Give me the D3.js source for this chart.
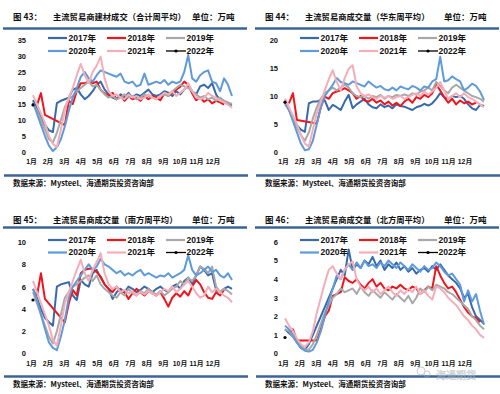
<!DOCTYPE html>
<html><head><meta charset="utf-8">
<script src="https://cdn.jsdelivr.net/npm/d3@7"></script>
<style>
body{margin:0;background:#fff}
svg{display:block}
text{font-family:"Liberation Sans","Noto Sans CJK SC",sans-serif}
.cjk{font-family:"Noto Sans CJK SC",sans-serif}
</style>
</head><body>
<svg id="c" width="500" height="394"></svg>
<script>
const years = ["2017年","2018年","2019年","2020年","2021年","2022年"];
const monthLabels = ["1月","2月","3月","4月","5月","6月","7月","8月","9月","10月","11月","12月"];

// 图43 合计
const total2017 = [16.2,13.5,11,8.5,6.8,6.2,15.3,16,16.5,17, 19.5,20,18,16.5,17.5,19,21,22,19.5,18, 17,16.5,18,17,18.5,17,18,17.5,18.5,19.5, 18,17.5,18,19,18.5,17.5,19,18,19.5,21, 19,18,20.5,21,20,21.5,18,16,15.5,15,14.7];
const total2018 = [null,14.7,18.4,11.6,null,null,null,null,8.4,16, 15,19,21.5,21.5,22,21.5,22,19.4,18.3,17.5, 18.5,16.5,17.5,16,17.5,16.5,17,16,17.5,16.5, 17.5,17,16.2,18.3,17.5,18.5,19.5,20.4,22,21, 18.3,16.2,17,15.7,16.5,15.2,16,15.5,14.8,null,null];
const total2019 = [15,13,10,7,4,3,6,10,14,16.5, 17.5,19,20,21,22,20.5,21,19.5,18,17, 17.5,16.5,17,18,17,17.5,16.5,17,18,17.5, 17,16.5,17.5,18,17.5,19,20,21,20.5,20, 19,18,17,17.5,16.5,17,16,17,16,15.5,15];
const total2020 = [15.5,12,8.5,5,2,0.3,1.5,4,8,13, 17,20,23.5,25,23,22,24,25.5,25,24.5, 24,23.5,24.5,22,21.5,22,20.5,21,24.5,21, 21.5,22,21.5,22.5,21,22,21.5,22,25,30.3, 23,22,24,25,25.5,22,21.5,19,23,21,17.5];
const total2021 = [17.8,15,12,9,5,2.5,1.5,7,13,17, 20,24,27.5,24,21.5,25,27,29.8,23,19, 17.5,18,17,16.5,18,17,17.5,16.5,17,18, 17,16.5,17.5,18.5,18,19,17.5,18.5,19.5,21.5, 19,17,16.5,17,18.5,17.5,17,16,15.5,14.8,13.8];
const total2022 = [14.7];

// 图44 华东
const east2017 = [8.7,7.5,6,4.8,4,3.6,8.7,9,9,9.3, 9.2,7.5,8.4,8,7.5,9,10.2,7.8,8.5,9, 9.5,8.5,8,7.8,8.5,8,8.3,7.8,8.5,8.2, 8.1,7.8,7.5,8,8.2,8.6,8.3,8.7,9.5,10.5, 9.8,9.5,10,9.8,10,9.5,8.5,7.8,7.5,8.4,8.2];
const east2018 = [null,8.7,10.5,5.7,null,null,null,null,5.1,8, 9.9,9.5,10.5,10.8,11,11.4,11,10.5,9.5,10, 9.2,9,9.5,8.8,9.2,8.5,9,8.3,8.8,8.2, 9,9.5,8.8,9.8,9.5,10.2,9.8,10.5,12,11, 9.8,8.8,9.5,8.5,9.2,8.7,9,8.5,8.8,null,null];
const east2019 = [8.5,7.5,6,4.5,3,2,3.5,6,8,9.5, 10.5,11,11.5,11,11.5,12,11.5,10.5,10,9.8, 10,9.5,10,9.8,10.2,9.5,10,9.8,10.2,10, 10.3,10,10.5,10.2,10.8,11,11.5,11,12.5,11.8, 11,10.5,11.5,12,11.5,11,10.5,10,9.8,9.5,9];
const east2020 = [9,7.5,5.5,3.5,1.5,0.3,0.5,2,5,8, 10,11,12,13.2,12.5,12.3,12,12.6,12.3,12, 11.7,12.6,12,11.5,11.8,11.2,11,11.5,11,11.7, 11.4,11.2,11.8,11.5,11,11.7,11.5,12.6,13,17, 12.6,12.8,13.5,13,12.6,11,11.5,12.2,11.8,10.8,9.3];
const east2021 = [9.5,8,6.5,5,3,1.5,1,4,7,9, 11,13,14.6,12.5,11,13.2,14.9,15.5,11.7,10.5, 10,10.3,9.8,9.5,10,9.7,10,9.5,9.8,10, 9.5,9.8,10.2,10.5,10,10.8,10.2,10.8,11.5,12.5, 11,9.5,10,10.5,9.8,10.5,9.8,9.5,9,8.5,8];
const east2022 = [8.9];

// 图45 南方
const south2017 = [5.8,5,4,3.2,2.8,2.5,6,6.2,6.3,6.4, 5.2,4.8,6.6,6.2,6,7.2,7.5,6.8,6.2,5.8, 4.9,5.5,5.8,5.5,6,5.8,5.5,5.7,6,5.8, 5.5,5.8,6,5.7,5.5,6,6.2,5.8,6.5,6.8, 6.2,7,7.8,7.5,7,7.2,5.7,5.5,5.8,6,5.8];
const south2018 = [null,5.2,7.2,4.9,null,null,null,null,2.8,4.5, 5.7,5.2,7.2,7.5,7.6,7.6,7.3,6.9,6.2,5.8, 5.5,6,5.6,5.5,4.9,5.4,5.8,5.5,5.2,5.6, 5.4,5.2,5.5,4.9,4.2,5,5.4,5.1,5.6,5.2, 6,6.6,6.2,5.5,5,4.9,5.5,5.2,5.7,null,null];
const south2019 = [5.5,4.5,3.5,2.5,1.5,0.9,2,3.5,5,5.5, 6,6.2,6.5,6.8,7,6.5,7,6.2,5.8,5.5, 5.2,5,5.5,5.2,5.8,5.4,5.2,5.6,5.4,5.8, 5.5,5.3,5.6,5.2,5.5,5.8,6,6.5,6.2,6.8, 6.5,7,7.8,7.6,7.2,7.8,6,5.5,5.8,5.6,5.3];
const south2020 = [5.8,4.8,3.5,2.2,1,0.5,0.3,1.5,3,5, 6,6.5,7,7.5,8,7.5,7.8,8.5,8,7.8, 7.5,7.2,7.4,7,7.2,7,7.3,7.5,7,7.2, 7,6.8,7,6.9,7.2,6.8,7,7.2,7.5,8.8, 7.5,7,7.2,7.5,7.8,7.3,7.5,7,6.8,7.2,6.6];
const south2021 = [6.5,5.5,4.5,3.5,2.5,1.2,0.7,2.5,4.5,5.5, 6.5,7.5,8.4,7.2,6.5,7.5,8.2,9,7.2,6.2, 5.8,6,5.5,5.7,5.4,5.6,5.2,5.5,5.3,5.6, 5.4,5.2,5.5,5.8,5.6,6,5.5,5.8,6.2,6.5, 6,5.4,5,5.2,6,5.5,5.8,5.5,5.2,5,4.6];
const south2022 = [4.8];

// 图46 北方
const north2017 = [1.3,1.1,0.9,0.6,0.3,0.2,0.5,1,1.5,2, 2.5,3,3.5,4,4.5,4.2,5.6,4.5,4.8,4.6, 5,4.8,5.2,4.7,5,4.5,4.8,4.6,4.9,4.5, 4.7,4.4,4.6,4.3,4.5,4.6,4.4,4.7,4.5,4.8, 4.5,4.2,4,3.8,3.5,3,3.2,2.5,2,1.8,1.6];
const north2018 = [null,1.1,1.3,0.7,null,null,null,null,0.7,1.3, 2,2.3,3.1,3.2,3.3,4.1,3.9,3.8,4,3.7, 3.5,3.8,4,3.6,3.8,3.5,3.4,3.6,3.5,3.7, 3.5,3.4,3.6,3.5,3.2,3.4,3.6,3.5,4.7,4.2, 3.8,3.5,3.6,3.3,2.9,2.5,2.2,2,1.9,1.7,null];
const north2019 = [1.3,1.2,0.9,0.6,0.4,0.25,0.2,0.5,1,1.6, 2.2,2.6,3,3.2,3.5,3.3,3.4,3.5,3.2,3.6, 3.3,3.1,3.4,3.2,3,3.3,3.1,2.9,3.2,3, 2.8,3.1,2.7,3,3.5,3.3,3.6,3.4,3.7,3.6, 3.5,3.3,3.2,3,2.8,2.6,2.4,2,1.8,1.5,1.3];
const north2020 = [1.5,1.3,1,0.6,0.3,0.15,0.1,0.2,0.6,1.2, 2,2.8,3.5,4.2,4,4.5,4.8,4.5,4.9,4.6, 5,4.7,4.8,4.6,4.9,4.7,5,4.8,4.6,4.9, 4.7,4.5,4.8,4.6,4.4,4.7,4.5,4.6,4.9,4.7, 4.4,4.2,4.3,4,3.7,2.8,3.4,2.8,3.2,2.3,1.55];
const north2021 = [1.9,1.5,1.2,0.8,0.5,0.35,0.6,1.2,2.2,3, 3.8,4.5,4.7,4.3,4,4.5,4.8,4.95,4,3.6, 3.4,3.6,3.3,3.5,3.2,3.4,3.6,3.3,3.1,3.4, 3.2,3.5,3.3,3.6,3.2,3.4,3.1,2.9,3.6,3.5, 3.3,3,2.8,2.6,2.3,2,1.8,1.5,1.3,1,0.84];
const north2022 = [0.86];

const yTicks43 = [0,5,10,15,20,25,30,35];
const yTicks44 = [0,5,10,15,20];
const yTicks45 = [0,2,4,6,8,10];
const yTicks46 = [0,1,2,3,4,5,6];

const colors = ["#3769ab","#f0141c","#a8a8a8","#5f9bd8","#f5adb8","#000000"];

const panels = [
  {fig:"图 43：", title:"主流贸易商建材成交（合计周平均）", ox:0, row:0, ticks:yTicks43, series:[total2017,total2018,total2019,total2020,total2021,total2022]},
  {fig:"图 44：", title:"主流贸易商成交量（华东周平均）", ox:252, row:0, ticks:yTicks44, series:[east2017,east2018,east2019,east2020,east2021,east2022]},
  {fig:"图 45：", title:"主流贸易商成交量（南方周平均）", ox:0, row:1, ticks:yTicks45, series:[south2017,south2018,south2019,south2020,south2021,south2022]},
  {fig:"图 46：", title:"主流贸易商成交量（北方周平均）", ox:252, row:1, ticks:yTicks46, series:[north2017,north2018,north2019,north2020,north2021,north2022]}
];

const rows = [
  {titleY:17.5, ruleTop:28.5, leg1:38, leg2:51, yTop:40, yBot:152, xLab:162, ruleBot:175.5, src:183},
  {titleY:220, ruleTop:227.5, leg1:240, leg2:252.5, yTop:242, yBot:353.5, xLab:364, ruleBot:376.5, src:384}
];

const svg = d3.select("#c");
const ruleColor = "#3b6398";

panels.forEach(p => {
  const r = rows[p.row];
  const g = svg.append("g");
  const ox = p.ox;
  g.append("text").attr("class","cjk").attr("x",ox+13).attr("y",r.titleY).attr("dy","0.35em")
    .attr("font-size",8.5).attr("font-weight","bold").attr("fill","#111").text(p.fig);
  g.append("text").attr("class","cjk").attr("x",ox+53).attr("y",r.titleY).attr("dy","0.35em")
    .attr("font-size",8.3).attr("font-weight","bold").attr("fill","#111").text(p.title);
  g.append("text").attr("class","cjk").attr("x",ox+192).attr("y",r.titleY).attr("dy","0.35em")
    .attr("font-size",8.5).attr("font-weight","bold").attr("fill","#111").text("单位：万吨");
  g.append("line").attr("x1",ox+3).attr("x2",ox+247).attr("y1",r.ruleTop).attr("y2",r.ruleTop)
    .attr("stroke",ruleColor).attr("stroke-width",2.5);
  g.append("line").attr("x1",ox+4).attr("x2",ox+248).attr("y1",r.ruleBot).attr("y2",r.ruleBot)
    .attr("stroke",ruleColor).attr("stroke-width",2.5);
  g.append("text").attr("class","cjk").attr("x",ox+13).attr("y",r.src).attr("dy","0.35em")
    .attr("font-size",7.5).attr("font-weight","bold").attr("fill","#111").text("数据来源：Mysteel、海通期货投资咨询部");

  const y = d3.scaleLinear().domain([0, d3.max(p.ticks)]).range([r.yBot, r.yTop]);
  const x = d3.scaleLinear().domain([0,50]).range([ox+33, ox+232]);
  const xm = d3.scalePoint().domain(monthLabels).range([ox+31, ox+212.5]);

  const yAxis = g.append("g").attr("transform",`translate(${ox+26},0)`)
    .call(d3.axisLeft(y).tickValues(p.ticks).tickSize(0).tickPadding(0).tickFormat(d3.format("d")));
  yAxis.select(".domain").remove();
  yAxis.selectAll("text").attr("font-size",7.5).attr("font-weight","bold").attr("fill","#111")
    .attr("font-family","Liberation Sans, sans-serif");

  const xAxis = g.append("g").attr("transform",`translate(0,${r.xLab})`)
    .call(d3.axisBottom(xm).tickSize(0).tickPadding(0));
  xAxis.select(".domain").remove();
  xAxis.selectAll("text").attr("dy","0.35em").attr("font-size",6.8).attr("font-weight","bold").attr("fill","#111")
    .attr("font-family","Liberation Sans, Noto Sans CJK SC, sans-serif");

  const line = d3.line().x(d => x(d[0])).y(d => y(d[1]));
  p.series.forEach((s, i) => {
    const pts = s.map((v, w) => [w, v]).filter(d => d[1] !== null);
    if (i < 5) {
      g.append("path").attr("d", line(pts)).attr("fill","none")
        .attr("stroke", colors[i]).attr("stroke-width", 2).attr("stroke-linejoin","round");
    } else {
      g.append("path").attr("d", line(pts)).attr("fill","none").attr("stroke","#000").attr("stroke-width",1.2);
      g.selectAll(null).data(pts).enter().append("circle")
        .attr("cx", d => x(d[0])).attr("cy", d => y(d[1])).attr("r", 1.6).attr("fill","#000");
    }
  });

  const legCols = [48, 107, 166];
  years.forEach((yr, i) => {
    const cx = ox + legCols[i % 3];
    const cy = i < 3 ? r.leg1 : r.leg2;
    if (i < 5) {
      g.append("line").attr("x1",cx).attr("x2",cx+19).attr("y1",cy).attr("y2",cy)
        .attr("stroke",colors[i]).attr("stroke-width",2.2);
    } else {
      g.append("line").attr("x1",cx).attr("x2",cx+20).attr("y1",cy).attr("y2",cy)
        .attr("stroke","#000").attr("stroke-width",1.3);
      g.append("circle").attr("cx",cx+10).attr("cy",cy).attr("r",1.6).attr("fill","#000");
    }
    g.append("text").attr("x",cx+20.5).attr("y",cy).attr("dy","0.35em")
      .attr("font-size",8.5).attr("font-weight","bold").attr("fill","#111").text(yr);
  });
});

// watermark
const wm = svg.append("g").attr("opacity",0.55);
wm.append("circle").attr("cx",421).attr("cy",371).attr("r",4).attr("fill","none").attr("stroke","#9aa").attr("stroke-width",1);
wm.append("circle").attr("cx",427).attr("cy",374).attr("r",3).attr("fill","none").attr("stroke","#9aa").attr("stroke-width",1);
wm.append("text").attr("class","cjk").attr("x",436).attr("y",378.5).attr("font-size",10)
  .attr("fill","#eef2f4").attr("stroke","#9aa6ad").attr("stroke-width",0.5).text("海通期货");
</script>
</body></html>
